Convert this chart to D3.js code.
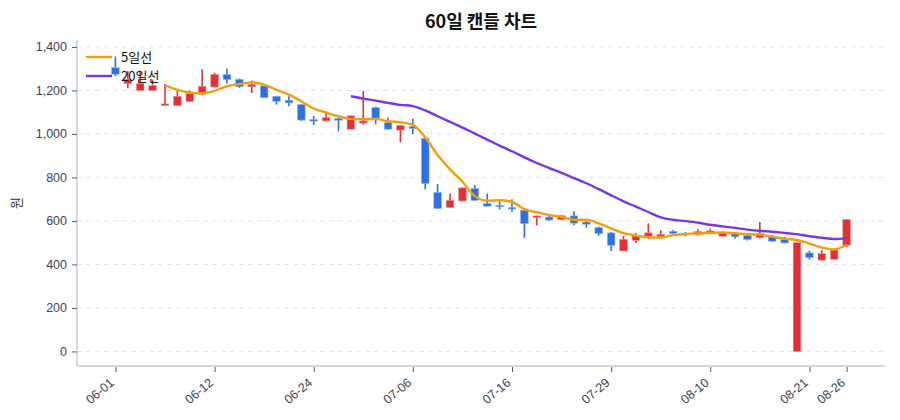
<!DOCTYPE html>
<html>
<head>
<meta charset="utf-8">
<script src="https://cdn.jsdelivr.net/npm/d3@7"></script>
<style>
  body { margin: 0; background: #fff; }
  svg { font-family: "Noto Sans CJK KR", "Noto Sans", sans-serif; }
</style>
</head>
<body>
<main></main>
<script>
// 60 trading days, OHLC
const open  = [1305,1232,1200,1200,1134,1130,1150,1183,1216,1273,1251,1217,1221,1173,1155,1135,1066,1060,1071,1022,
               1050,1122,1052,1018,1034,980,731,662,692,749,680,672,662,649,618,618,606,623,595,569,
               545,462,511,529,530,552,543,539,545,530,542,533,524,527,514,0,453,420,424,489];
const high  = [1356,1290,1290,1250,1230,1200,1200,1296,1282,1300,1255,1245,1225,1175,1173,1138,1082,1095,1088,1085,
               1198,1125,1075,1040,1070,985,770,726,755,765,726,692,700,652,625,626,628,645,603,575,
               549,530,545,588,558,558,549,562,565,550,545,535,595,535,527,500,463,466,468,608];
const low   = [1266,1210,1198,1198,1132,1128,1148,1180,1214,1232,1212,1188,1165,1135,1127,1060,1041,1058,1012,1020,
               1042,1045,1019,962,1000,745,655,660,690,693,666,652,642,522,580,602,604,580,569,532,
               462,462,498,518,526,540,531,532,543,528,519,510,519,505,497,0,423,418,422,480];
const close = [1275,1250,1231,1222,1138,1173,1186,1219,1273,1250,1217,1227,1167,1150,1143,1064,1061,1075,1063,1083,
               1060,1065,1022,1038,1025,772,657,695,752,695,668,666,655,588,623,604,624,590,585,542,
               488,515,534,545,538,543,538,551,554,547,527,515,542,507,499,500,432,450,466,606];
const tickIdx    = [0, 8, 16, 24, 32, 40, 48, 56, 59];
const tickLabels = ['06-01','06-12','06-24','07-06','07-16','07-29','08-10','08-21','08-26'];
const yTicks = [0, 200, 400, 600, 800, 1000, 1200, 1400];

const w = 900, h = 420;
const pLeft = 77, pRight = 885, pTop = 40, pBottom = 366;
const upColor = '#e03236', downColor = '#2f6fe4';

const svg = d3.select('main').append('svg').attr('width', w).attr('height', h);

const x = d3.scaleLinear().domain([-3.1, 62.1]).range([pLeft, pRight]);
const y = d3.scaleLinear().domain([-67, 1432]).range([pBottom, pTop]);

// grid
svg.append('g').selectAll('line').data(yTicks).enter().append('line')
    .attr('x1', pLeft).attr('x2', pRight)
    .attr('y1', d => y(d)).attr('y2', d => y(d))
    .attr('stroke', '#e3e3e3').attr('stroke-dasharray', '5,4');

// axes
const yAxis = d3.axisLeft(y).tickValues(yTicks).tickFormat(d3.format(',')).tickSize(5).tickPadding(5);
const gy = svg.append('g').attr('transform', `translate(${pLeft},0)`).call(yAxis);
gy.select('.domain').attr('stroke', '#d5d9df').attr('stroke-width', 2).attr('d', `M0,${pTop}V${pBottom}`);
gy.selectAll('.tick line').attr('stroke', '#555b66');
gy.selectAll('.tick text').attr('fill', '#3d4450').style('font-size', '12.5px');

const xAxis = d3.axisBottom(x).tickValues(tickIdx).tickFormat((d, i) => tickLabels[i]).tickSize(5);
const gx = svg.append('g').attr('transform', `translate(0,${pBottom})`).call(xAxis);
gx.select('.domain').attr('stroke', '#d5d9df').attr('stroke-width', 2).attr('d', `M${pLeft},0H${pRight}`);
gx.selectAll('.tick line').attr('stroke', '#555b66').attr('transform', 'translate(0,1)');
gx.selectAll('.tick text')
    .attr('fill', '#3d4450').style('font-size', '12.5px')
    .attr('text-anchor', 'end')
    .attr('dy', null).attr('y', 0)
    .attr('transform', 'translate(-1,18) rotate(-40)');

// candles
const idx = d3.range(open.length);
const cg = svg.append('g');
cg.selectAll('line').data(idx).enter().append('line')
    .attr('x1', i => x(i)).attr('x2', i => x(i))
    .attr('y1', i => y(high[i])).attr('y2', i => y(low[i]))
    .attr('stroke', i => close[i] >= open[i] ? upColor : downColor)
    .attr('stroke-width', 1.6);
const bw = 7.6;
cg.selectAll('rect').data(idx).enter().append('rect')
    .attr('x', i => x(i) - bw / 2)
    .attr('width', bw)
    .attr('y', i => y(Math.max(open[i], close[i])))
    .attr('height', i => Math.max(1.5, Math.abs(y(open[i]) - y(close[i]))))
    .attr('fill', i => close[i] >= open[i] ? upColor : downColor)
    .attr('stroke', i => close[i] >= open[i] ? '#f08a8c' : '#8fb0f0')
    .attr('stroke-width', 0.6);

// moving averages
function ma(n) {
    return idx.filter(i => i >= n - 1).map(i => [i, d3.mean(close.slice(i - n + 1, i + 1))]);
}
const line = d3.line().x(d => x(d[0])).y(d => y(d[1])).curve(d3.curveMonotoneX);
svg.append('path').datum(ma(20)).attr('d', line)
    .attr('fill', 'none').attr('stroke', '#7a35e8').attr('stroke-width', 2.4);
svg.append('path').datum(ma(5)).attr('d', line)
    .attr('fill', 'none').attr('stroke', '#f59d0a').attr('stroke-width', 2.4);

// legend
const legend = [['5일선', '#f59d0a'], ['20일선', '#7a35e8']];
const lg = svg.append('g').selectAll('g').data(legend).enter().append('g')
    .attr('transform', (d, i) => `translate(86,${57 + i * 19})`);
lg.append('line').attr('x1', 0).attr('x2', 26).attr('stroke', d => d[1]).attr('stroke-width', 2.4);
lg.append('text').attr('x', 35).attr('y', 5).text(d => d[0])
    .style('font-size', '13px').attr('fill', '#111');

// title and y label
svg.append('text').attr('x', (pLeft + pRight) / 2).attr('y', 28).attr('text-anchor', 'middle')
    .style('font-size', '18px').style('font-weight', 'bold').attr('fill', '#111')
    .text('60일 캔들 차트');
svg.append('text').attr('transform', `translate(21,${(pTop + pBottom) / 2}) rotate(-90)`)
    .attr('text-anchor', 'middle').style('font-size', '13px').attr('fill', '#333')
    .text('원');
</script>
</body>
</html>
